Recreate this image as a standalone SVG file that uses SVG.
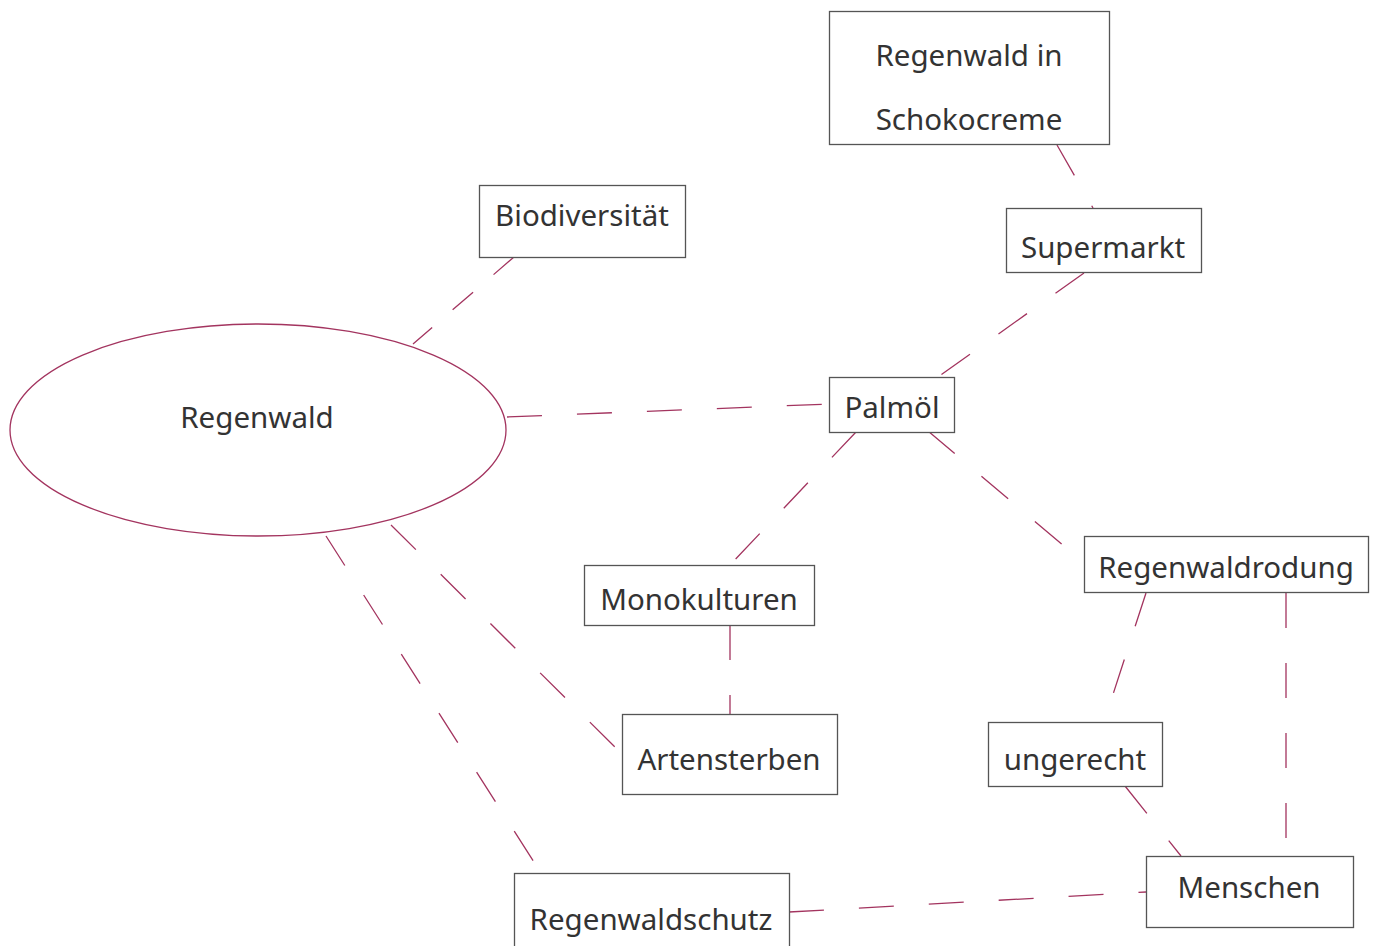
<svg xmlns="http://www.w3.org/2000/svg" width="1376" height="946" viewBox="0 0 1376 946">
<style>
.box{fill:#fff;stroke:#555;stroke-width:1.3}
.ell{fill:#fff;stroke:#a3345f;stroke-width:1.3}
.t{font-family:"Noto Sans","Open Sans",sans-serif;font-size:29.5px;fill:#333;text-anchor:middle}
.c line{stroke:#a3345f;stroke-width:1.3;stroke-dasharray:35 35;fill:none}
</style>
<rect width="1376" height="946" fill="#fff"/>
<g class="c" id="connectors">
<line x1="514" y1="257" x2="413" y2="344" style="stroke-dasharray:27 27"/>
<line x1="507" y1="417" x2="829" y2="404"/>
<line x1="1057" y1="145" x2="1093" y2="208"/>
<line x1="1084" y1="273" x2="938" y2="377"/>
<line x1="856" y1="432" x2="730" y2="565"/>
<line x1="928" y1="431" x2="1084" y2="563"/>
<line x1="730" y1="625" x2="730" y2="714"/>
<line x1="391" y1="525" x2="622" y2="754"/>
<line x1="326" y1="536" x2="541" y2="873"/>
<line x1="1146" y1="593" x2="1104" y2="722"/>
<line x1="1286" y1="593" x2="1286" y2="856"/>
<line x1="1125" y1="786" x2="1181" y2="856"/>
<line x1="789" y1="912" x2="1146" y2="892"/>
</g>
<g id="regenwald"><ellipse class="ell" cx="258" cy="430" rx="248" ry="106"/><text class="t" x="257" y="428">Regenwald</text></g>
<g id="schokocreme"><rect class="box" x="829.5" y="11.5" width="280" height="133"/><text class="t" x="969" y="66">Regenwald in</text><text class="t" x="969" y="130">Schokocreme</text></g>
<g id="biodiversitaet"><rect class="box" x="479.5" y="185.5" width="206" height="72"/><text class="t" x="582" y="226">Biodiversität</text></g>
<g id="supermarkt"><rect class="box" x="1006.5" y="208.5" width="195" height="64"/><text class="t" x="1103" y="258">Supermarkt</text></g>
<g id="palmoel"><rect class="box" x="829.5" y="377.5" width="125" height="55"/><text class="t" x="892" y="418">Palmöl</text></g>
<g id="regenwaldrodung"><rect class="box" x="1084.5" y="536.5" width="284" height="56"/><text class="t" x="1226" y="578">Regenwaldrodung</text></g>
<g id="monokulturen"><rect class="box" x="584.5" y="565.5" width="230" height="60"/><text class="t" x="699" y="610">Monokulturen</text></g>
<g id="artensterben"><rect class="box" x="622.5" y="714.5" width="215" height="80"/><text class="t" x="729" y="770">Artensterben</text></g>
<g id="ungerecht"><rect class="box" x="988.5" y="722.5" width="174" height="64"/><text class="t" x="1075" y="770">ungerecht</text></g>
<g id="menschen"><rect class="box" x="1146.5" y="856.5" width="207" height="71"/><text class="t" x="1249" y="898">Menschen</text></g>
<g id="regenwaldschutz"><rect class="box" x="514.5" y="873.5" width="275" height="80"/><text class="t" x="651" y="930">Regenwaldschutz</text></g>
</svg>
